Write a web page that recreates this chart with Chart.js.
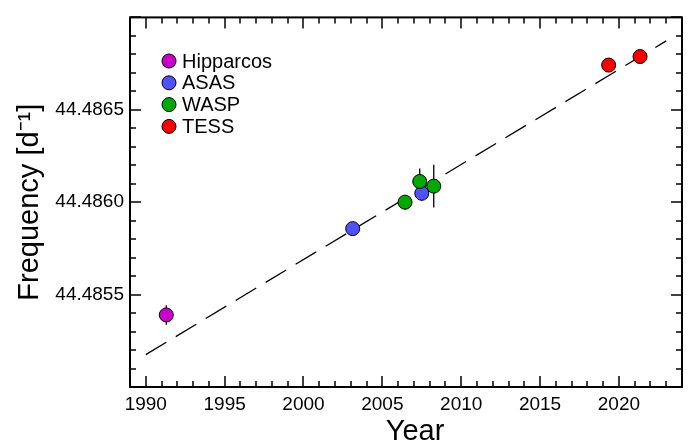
<!DOCTYPE html>
<html>
<head>
<meta charset="utf-8">
<script src="https://cdn.jsdelivr.net/npm/chart.js@4.4.0/dist/chart.umd.min.js"></script>
<style>
  html, body { margin: 0; padding: 0; background: #fff; }
</style>
</head>
<body>
<canvas id="freqChart" width="692" height="446"></canvas>
<script>
// values
const hipYear = [1991.30];
const hipFreq = [44.485390];
const hipErr = [0.000053];

const asasYear = [2003.12, 2007.50];
const asasFreq = [44.485857, 44.486048];
const asasErr = [0.00002, 0.00004];

const waspYear = [2006.44, 2007.37, 2008.26];
const waspFreq = [44.486000, 44.486112, 44.486087];
const waspErr = [0.00004, 0.00007, 0.000116];

const tessYear = [2019.35, 2021.34];
const tessFreq = [44.486742, 44.486788];
const tessErr = [0.00001, 0.00001];

// linear fit (dashed)
const fitYear = [1990.0, 2023.0];
const fitFreq = [44.485175, 44.486873];

const xTicks = [1990, 1995, 2000, 2005, 2010, 2015, 2020];
const yTicks = [44.4855, 44.4860, 44.4865];

Chart.defaults.font.family = "'Liberation Sans', Arial, sans-serif";
Chart.defaults.color = '#000';

function pts(xs, ys) {
    return xs.map((x, i) => ({x: x, y: ys[i]}));
}

function series(label, color, xs, ys, errs, order) {
    return {
        type: 'scatter',
        label: label,
        data: pts(xs, ys),
        errors: errs,
        backgroundColor: color,
        borderColor: '#000',
        borderWidth: 1,
        pointRadius: 7,
        order: order
    };
}

const errorBars = {
    id: 'errorBars',
    beforeDatasetsDraw(chart) {
        const ctx = chart.ctx, xs = chart.scales.x, ys = chart.scales.y;
        ctx.save();
        ctx.strokeStyle = '#000';
        ctx.lineWidth = 1.3;
        chart.data.datasets.forEach(ds => {
            if (!ds.errors) return;
            ds.data.forEach((p, i) => {
                const px = xs.getPixelForValue(p.x);
                ctx.beginPath();
                ctx.moveTo(px, ys.getPixelForValue(p.y - ds.errors[i]));
                ctx.lineTo(px, ys.getPixelForValue(p.y + ds.errors[i]));
                ctx.stroke();
            });
        });
        ctx.restore();
    }
};

// box with inward ticks on all four sides, plus the x title
const frame = {
    id: 'frame',
    afterDraw(chart) {
        const ctx = chart.ctx, a = chart.chartArea;
        const xs = chart.scales.x, ys = chart.scales.y;
        ctx.save();
        ctx.strokeStyle = '#000';
        ctx.lineWidth = 1.5;
        function seg(x1, y1, x2, y2) {
            ctx.beginPath(); ctx.moveTo(x1, y1); ctx.lineTo(x2, y2); ctx.stroke();
        }
        for (let yr = Math.ceil(xs.min); yr <= xs.max; yr++) {
            const px = Math.round(xs.getPixelForValue(yr));
            const len = yr % 5 === 0 ? 11 : 6;
            seg(px, a.bottom, px, a.bottom - len);
            seg(px, a.top, px, a.top + len);
        }
        for (let k = Math.ceil(ys.min * 10000 - 1e-6); k <= ys.max * 10000 + 1e-6; k++) {
            const py = Math.round(ys.getPixelForValue(k / 10000));
            const len = k % 5 === 0 ? 11 : 6;
            seg(a.left, py, a.left + len, py);
            seg(a.right, py, a.right - len, py);
        }
        ctx.lineWidth = 2;
        ctx.strokeRect(a.left, a.top, a.right - a.left, a.bottom - a.top);

        ctx.fillStyle = '#000';
        ctx.font = "29px 'Liberation Sans', Arial, sans-serif";
        ctx.textAlign = 'center';
        ctx.textBaseline = 'middle';
        ctx.fillText('Year', (a.left + a.right) / 2 + 9, 432);
        ctx.restore();
    }
};

const legendBox = {
    id: 'legendBox',
    afterDraw(chart) {
        const ctx = chart.ctx;
        ctx.save();
        ctx.font = "20px 'Liberation Sans', Arial, sans-serif";
        ctx.textBaseline = 'middle';
        let row = 0;
        chart.data.datasets.forEach(ds => {
            if (!ds.errors) return;
            const cy = 61 + row * 21.8;
            ctx.beginPath();
            ctx.arc(169, cy, 7, 0, Math.PI * 2);
            ctx.fillStyle = ds.backgroundColor;
            ctx.fill();
            ctx.lineWidth = 1;
            ctx.strokeStyle = '#000';
            ctx.stroke();
            ctx.fillStyle = '#000';
            ctx.fillText(ds.label, 182, cy + 1);
            row++;
        });
        ctx.restore();
    }
};

new Chart(document.getElementById('freqChart'), {
    type: 'scatter',
    data: {
        datasets: [
            series('Hipparcos', '#cc00cc', hipYear, hipFreq, hipErr, 4),
            series('ASAS', '#5050ff', asasYear, asasFreq, asasErr, 3),
            series('WASP', '#00aa00', waspYear, waspFreq, waspErr, 2),
            series('TESS', '#ff0000', tessYear, tessFreq, tessErr, 1),
            {
                type: 'line',
                label: 'fit',
                data: pts(fitYear, fitFreq),
                borderColor: '#000',
                borderWidth: 1.3,
                borderDash: [24, 11],
                pointRadius: 0,
                fill: false,
                order: 5
            }
        ]
    },
    options: {
        responsive: false,
        animation: false,
        layout: { padding: { top: 14, right: 10, left: 0, bottom: 0 } },
        plugins: {
            legend: { display: false },
            tooltip: { enabled: false }
        },
        scales: {
            x: {
                type: 'linear',
                position: 'bottom',
                min: 1989,
                max: 2024,
                grid: { display: false, drawTicks: false },
                border: { display: false },
                ticks: { font: { size: 19 }, padding: 6, maxRotation: 0, autoSkip: false, callback: v => String(v) },
                afterBuildTicks: s => { s.ticks = xTicks.map(v => ({value: v})); },
                afterFit: s => { s.height = 59; }
            },
            y: {
                type: 'linear',
                min: 44.4850,
                max: 44.4870,
                grid: { display: false, drawTicks: false },
                border: { display: false },
                ticks: { font: { size: 19 }, padding: 6, autoSkip: false, callback: v => v.toFixed(4) },
                afterBuildTicks: s => { s.ticks = yTicks.map(v => ({value: v})); },
                afterFit: s => { s.width = 130; },
                title: { display: true, text: 'Frequency [d⁻¹]', font: { size: 29, lineHeight: 1 }, padding: { top: 15, bottom: 0 } }
            }
        }
    },
    plugins: [errorBars, frame, legendBox]
});
</script>
</body>
</html>
